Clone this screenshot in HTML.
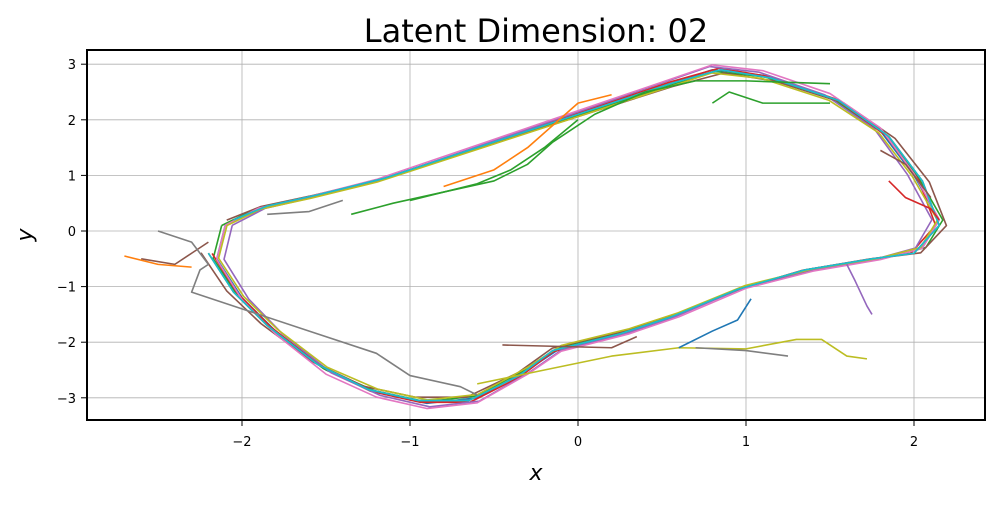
<!DOCTYPE html>
<html><head><meta charset="utf-8"><style>
body{margin:0;background:#fff;font-family:"Liberation Sans","DejaVu Sans",sans-serif}
</style></head><body>
<svg id="chart" width="1000" height="500" xmlns="http://www.w3.org/2000/svg">
<text x="536" y="42" font-size="32" text-anchor="middle" font-family="DejaVu Sans, sans-serif">Latent Dimension: 02</text>
<g id="grid"></g>
<g id="series"></g>
<rect x="87" y="50" width="898" height="370" fill="none" stroke="#000" stroke-width="2"/>
<g id="ticks" font-family="DejaVu Sans, sans-serif"></g>
<text x="536" y="480" font-size="22" font-style="italic" text-anchor="middle" font-family="DejaVu Sans, sans-serif">x</text>
<text x="32" y="235" font-size="22" font-style="italic" text-anchor="middle" transform="rotate(-90 32 235)" font-family="DejaVu Sans, sans-serif">y</text>
</svg>
<script>
const xTicks=[-2,-1,0,1,2];
const yTicks=[-3,-2,-1,0,1,2,3];
const colors=["#1f77b4","#ff7f0e","#2ca02c","#d62728","#9467bd","#8c564b","#e377c2","#7f7f7f","#bcbd22","#17becf"];
const loopA=[[-2.1,0.1],[-1.9,0.4],[-1.6,0.6],[-1.2,0.9],[-0.9,1.2],[-0.5,1.6],[-0.2,1.9],[0.2,2.3],[0.5,2.6],[0.8,2.9],[1.1,2.8],[1.5,2.4],[1.8,1.8],[2.0,1.0],[2.15,0.2],[2.05,-0.3],[1.8,-0.5],[1.4,-0.7],[1.0,-1.0],[0.6,-1.5],[0.3,-1.8],[-0.1,-2.1],[-0.3,-2.5],[-0.6,-3.0],[-0.9,-3.1],[-1.2,-2.9],[-1.5,-2.5],[-1.8,-1.8],[-2.0,-1.2],[-2.15,-0.5],[-2.1,0.1]];
const loopB=[[-2.05,0.2],[-1.85,0.45],[-1.55,0.65],[-1.15,0.95],[-0.85,1.25],[-0.45,1.65],[-0.15,1.95],[0.25,2.35],[0.55,2.65],[0.85,2.9],[1.15,2.75],[1.55,2.35],[1.85,1.7],[2.05,0.9],[2.15,0.1],[2.0,-0.4],[1.75,-0.5],[1.35,-0.7],[0.95,-1.05],[0.55,-1.55],[0.25,-1.85],[-0.15,-2.15],[-0.35,-2.6],[-0.65,-3.05],[-0.95,-3.05],[-1.25,-2.85],[-1.55,-2.4],[-1.85,-1.7],[-2.05,-1.1],[-2.2,-0.4]];
const tailGreen=[[-1.35,0.3],[-1.1,0.5],[-0.8,0.7],[-0.5,0.9],[-0.3,1.2],[-0.15,1.6],[0.1,2.1],[0.4,2.5],[0.7,2.7],[1.0,2.7],[1.5,2.65]];
const tailGreen2=[[-1.0,0.55],[-0.6,0.85],[-0.4,1.1],[-0.2,1.5],[0.0,2.0]];
const tailGreen3=[[0.8,2.3],[0.9,2.5],[1.1,2.3],[1.5,2.3]];
const tailOrange=[[-0.8,0.8],[-0.5,1.1],[-0.3,1.5],[0.0,2.3],[0.2,2.45]];
const tailBrownL=[[-2.6,-0.5],[-2.4,-0.6],[-2.3,-0.4],[-2.2,-0.2]];
const tailGrayL=[[-2.5,0.0],[-2.3,-0.2],[-2.2,-0.6],[-2.25,-0.7],[-2.3,-1.1],[-2.0,-1.4],[-1.6,-1.8],[-1.2,-2.2],[-1.0,-2.6],[-0.7,-2.8],[-0.6,-2.95]];
const tailOrangeL=[[-2.7,-0.45],[-2.5,-0.6],[-2.3,-0.65]];
const tailRedR=[[1.85,0.9],[1.95,0.6],[2.1,0.4],[2.15,0.2]];
const tailBrownR=[[1.8,1.45],[1.95,1.2],[2.1,0.6]];
const tailPurpleR=[[1.6,-0.6],[1.65,-0.9],[1.72,-1.35],[1.75,-1.5]];
const tailOliveB=[[-0.6,-2.75],[-0.2,-2.5],[0.2,-2.25],[0.6,-2.1],[1.0,-2.12],[1.3,-1.95],[1.45,-1.95],[1.6,-2.25],[1.72,-2.3]];
const tailBlueB=[[0.6,-2.1],[0.8,-1.8],[0.95,-1.6],[1.03,-1.22]];
const tailBrownB=[[-0.45,-2.05],[0.2,-2.1],[0.35,-1.9]];
const tailGrayB=[[0.7,-2.1],[1.0,-2.15],[1.25,-2.25]];
const tailGrayT=[[-1.85,0.3],[-1.6,0.35],[-1.4,0.55]];
const seriesList=[[loopA,0],[loopB,1],[loopA.map(p=>[p[0]*1.01,p[1]*0.99]),2],[loopB.map(p=>[p[0]*0.99,p[1]*1.01]),3],[loopA.map(p=>[p[0]*0.98,p[1]*1.02]),4],[loopB.map(p=>[p[0]*1.02,p[1]*0.98]),5],[loopA.map(p=>[p[0]*1.0,p[1]*1.03]),6],[loopB,7],[loopA.map(p=>[p[0]*0.995,p[1]*0.98]),8],[loopB.map(p=>[p[0]*1.0,p[1]*1.0]),9],
[tailGreen,2],[tailGreen2,2],[tailGreen3,2],[tailOrange,1],[tailBrownL,5],[tailGrayL,7],[tailOrangeL,1],[tailRedR,3],[tailBrownR,5],[tailPurpleR,4],[tailOliveB,8],[tailBlueB,0],[tailBrownB,5],[tailGrayB,7],[tailGrayT,7]];
const NS="http://www.w3.org/2000/svg";
const sx=v=>578+v*168, sy=v=>231-v*55.6;
const grid=document.getElementById('grid'),ticks=document.getElementById('ticks'),sg=document.getElementById('series');
xTicks.forEach(t=>{
 const l=document.createElementNS(NS,'line');
 
 
 l.setAttribute('x1',sx(t));l.setAttribute('x2',sx(t));l.setAttribute('y1',50);l.setAttribute('y2',420);l.setAttribute('stroke','#b0b0b0');l.setAttribute('stroke-width','0.8');grid.appendChild(l);
 const k=document.createElementNS(NS,'line');
 
 
 k.setAttribute('x1',sx(t));k.setAttribute('x2',sx(t));k.setAttribute('y1',420);k.setAttribute('y2',426);k.setAttribute('stroke','#000');ticks.appendChild(k);
 const tx=document.createElementNS(NS,'text');
 
 
 tx.setAttribute('x',sx(t));tx.setAttribute('y',446);tx.setAttribute('font-size','13');tx.setAttribute('text-anchor','middle');tx.textContent=(t<0?'\u2212':'')+Math.abs(t);ticks.appendChild(tx);
});
yTicks.forEach(t=>{
 const l=document.createElementNS(NS,'line');
 
 
 l.setAttribute('y1',sy(t));l.setAttribute('y2',sy(t));l.setAttribute('x1',87);l.setAttribute('x2',985);l.setAttribute('stroke','#b0b0b0');l.setAttribute('stroke-width','0.8');grid.appendChild(l);
 const k=document.createElementNS(NS,'line');
 
 
 k.setAttribute('y1',sy(t));k.setAttribute('y2',sy(t));k.setAttribute('x1',81);k.setAttribute('x2',87);k.setAttribute('stroke','#000');ticks.appendChild(k);
 const tx=document.createElementNS(NS,'text');
 
 
 tx.setAttribute('x',76);tx.setAttribute('y',sy(t)+5);tx.setAttribute('font-size','13');tx.setAttribute('text-anchor','end');tx.textContent=(t<0?'\u2212':'')+Math.abs(t);ticks.appendChild(tx);
});
seriesList.forEach(([pts,c])=>{
 const p=document.createElementNS(NS,'polyline');
 
 
 p.setAttribute('points',pts.map(q=>sx(q[0])+','+sy(q[1])).join(' '));
 p.setAttribute('fill','none');p.setAttribute('stroke',colors[c]);p.setAttribute('stroke-width','1.6');p.setAttribute('stroke-linejoin','round');
 sg.appendChild(p);
});
</script>
</body></html>
